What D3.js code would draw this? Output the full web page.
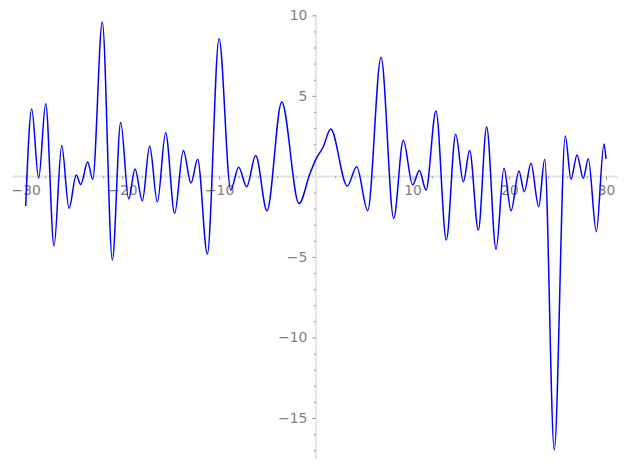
<!DOCTYPE html>
<html>
<head>
<meta charset="utf-8">
<script src="https://cdn.jsdelivr.net/npm/d3@7"></script>
<style>
  body { margin: 0; background: #fff; }
  #chart { width: 627px; height: 469px; }
</style>
</head>
<body>
<div id="chart"></div>
<script>
// curve points (mostly the local peaks and dips)
const xs = [-30, -29.38, -28.66, -27.93, -27.07, -26.28, -25.52, -24.77, -24.32, -23.59, -23.07,
  -22.08, -21.04, -20.18, -19.35, -18.70, -17.94, -17.18, -16.39, -15.53, -14.60, -13.70,
  -12.91, -12.22, -11.22, -10.01, -8.80, -7.98, -7.15, -6.22, -5.05, -3.53, -1.74, -0.6,
  0, 0.77, 1.53, 3.25, 4.22, 5.36, 6.74, 8.05, 9.04, 10.01, 10.70, 11.39, 12.42, 13.49,
  14.46, 15.25, 15.90, 16.80, 17.66, 18.63, 19.45, 20.18, 21.00, 21.55, 22.24, 23.04,
  23.66, 24.65, 25.79, 26.38, 27.0, 27.65, 28.17, 29.0, 29.79, 30];
const ys = [-1.84, 4.18, -0.12, 4.51, -4.32, 1.91, -1.98, 0.08, -0.51, 0.89, -0.18,
  9.58, -5.19, 3.34, -1.40, 0.46, -1.51, 1.89, -1.59, 2.71, -2.29, 1.60,
  -0.41, 1.06, -4.82, 8.55, -0.84, 0.56, -0.64, 1.29, -2.13, 4.62, -1.69, 0.19,
  1.06, 1.84, 2.94, -0.60, 0.60, -2.13, 7.39, -2.60, 2.22, -0.53, 0.36, -0.84, 4.06, -3.95,
  2.61, -0.33, 1.60, -3.33, 3.07, -4.53, 0.50, -2.13, 0.34, -0.95, 0.81, -1.88,
  1.07, -16.99, 2.51, -0.18, 1.33, -0.12, 1.10, -3.43, 2.01, 1.09];

const xTicks = [-30, -20, -10, 10, 20, 30];
const yTicks = [-15, -10, -5, 5, 10];

const width = 627, height = 469;
const axisCol = '#e3e3e3', tickCol = '#7f7f7f', labelCol = '#7f7f7f';

const x = d3.scaleLinear().domain([-30, 30]).range([25.7, 606]);
const y = d3.scaleLinear().domain([10, -15]).range([15.3, 418]);

const svg = d3.select('#chart').append('svg')
  .attr('width', width)
  .attr('height', height)
  .style('font-family', 'DejaVu Sans, sans-serif');

// axis lines through the origin
svg.append('line')
  .attr('x1', x(-31.4)).attr('x2', x(31.2))
  .attr('y1', y(0)).attr('y2', y(0))
  .attr('stroke', axisCol).attr('stroke-width', 2);
svg.append('line')
  .attr('x1', x(0)).attr('x2', x(0))
  .attr('y1', y(10.05)).attr('y2', y(-17.55))
  .attr('stroke', axisCol).attr('stroke-width', 2);

// x axis (minor every 2, major every 10)
const gx = svg.append('g').attr('transform', 'translate(0,' + y(0) + ')');
gx.call(d3.axisBottom(x).tickValues(d3.range(-30, 31, 2).filter((d) => d % 10 !== 0)).tickSize(2).tickFormat(''));
gx.call((g) => g.append('g').call(d3.axisBottom(x).tickValues(xTicks).tickSize(3.5).tickPadding(5).tickFormat(d3.format('d'))));

// y axis (minor every 1, major every 5)
const gy = svg.append('g').attr('transform', 'translate(' + x(0) + ',0)');
gy.call(d3.axisLeft(y).tickValues(d3.range(-17, 11, 1).filter((d) => d % 5 !== 0)).tickSize(2).tickFormat(''));
gy.call((g) => g.append('g').call(d3.axisLeft(y).tickValues(yTicks).tickSize(3.5).tickPadding(5).tickFormat(d3.format('d'))));

svg.selectAll('.domain').remove();
svg.selectAll('.tick line').attr('stroke', tickCol).attr('stroke-width', 0.8);
svg.selectAll('.tick text')
  .attr('fill', labelCol)
  .style('font-size', '13.9px')
  .style('font-family', 'DejaVu Sans, sans-serif');

// the curve
const pts = xs.map((d, i) => [d, ys[i]]);
const line = d3.line()
  .x((d) => x(d[0]))
  .y((d) => y(d[1]))
  .curve(d3.curveMonotoneX);

svg.append('path')
  .datum(pts)
  .attr('d', line)
  .attr('fill', 'none')
  .attr('stroke', '#0000ff')
  .attr('stroke-width', 1.5);
</script>
</body>
</html>
